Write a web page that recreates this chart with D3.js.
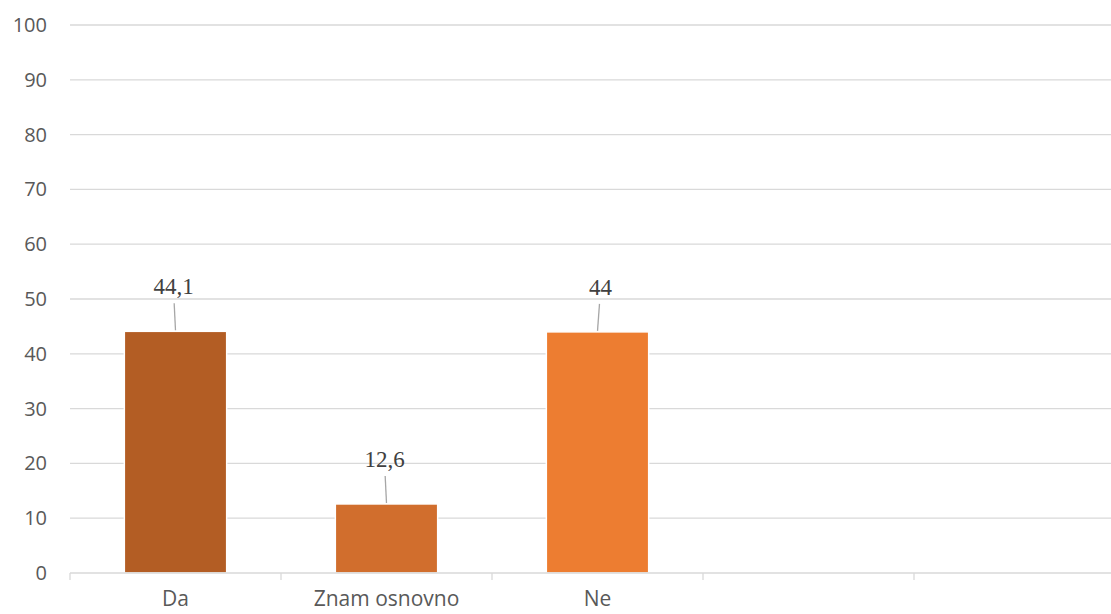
<!DOCTYPE html>
<html><head><meta charset="utf-8">
<script src="https://cdn.jsdelivr.net/npm/d3@7"></script>
<style>html,body{margin:0;padding:0;background:#fff;overflow:hidden}</style>
</head><body>
<svg id="c" width="1111" height="614"></svg>
<script>
const categories = ["Da", "Znam osnovno", "Ne", "", ""];
const values = [44.1, 12.6, 44, null, null];
const valueLabels = ["44,1", "12,6", "44", "", ""];
const yTicks = [0, 10, 20, 30, 40, 50, 60, 70, 80, 90, 100];
const barColors = ["#B35D24", "#D16E2D", "#ED7D31"];
const labelDx = [-2, -2, 3];

(function () {
const svg = d3.select("#c");
const mLeft = 70, mRight = 1125, mTop = 25, mBottom = 573;
const x = d3.scaleBand().domain(d3.range(categories.length)).range([mLeft, mRight]).padding(0);
const y = d3.scaleLinear().domain([0, 100]).range([mBottom, mTop]);
const barW = x.bandwidth() * 0.485;
const sans = "Open Sans, Liberation Sans, Arial, sans-serif";

// gridlines
svg.append("g").selectAll("line").data(yTicks.filter(d => d > 0)).join("line")
  .attr("x1", mLeft).attr("x2", mRight)
  .attr("y1", d => y(d)).attr("y2", d => y(d))
  .attr("stroke", "#d9d9d9").attr("stroke-width", 1.3);

// y labels
svg.append("g").selectAll("text").data(yTicks).join("text")
  .attr("x", 47).attr("y", d => y(d) + 7)
  .attr("text-anchor", "end")
  .attr("font-family", sans)
  .attr("font-size", 20).attr("fill", "#595959")
  .text(d => d);

// bars
const idx = d3.range(categories.length).filter(i => values[i] != null);
svg.append("g").selectAll("rect").data(idx).join("rect")
  .attr("x", i => x(i) + (x.bandwidth() - barW) / 2)
  .attr("width", barW)
  .attr("y", i => y(values[i]))
  .attr("height", i => y(0) - y(values[i]))
  .attr("fill", i => barColors[i])
  .attr("stroke", "#fff").attr("stroke-width", 1.5);

// x axis
const xAxis = svg.append("g").attr("transform", `translate(0,${mBottom})`);
xAxis.append("line").attr("x1", mLeft).attr("x2", mRight).attr("y1", 0).attr("y2", 0)
  .attr("stroke", "#d9d9d9").attr("stroke-width", 1.3);
xAxis.selectAll("line.tick").data(d3.range(categories.length + 1)).join("line")
  .attr("class", "tick")
  .attr("x1", i => mLeft + i * x.step()).attr("x2", i => mLeft + i * x.step())
  .attr("y1", 0).attr("y2", 7)
  .attr("stroke", "#d9d9d9").attr("stroke-width", 1.3);
xAxis.selectAll("text").data(d3.range(categories.length)).join("text")
  .attr("x", i => x(i) + x.bandwidth() / 2)
  .attr("y", 33)
  .attr("text-anchor", "middle")
  .attr("font-family", sans)
  .attr("font-size", 21).attr("fill", "#595959")
  .text(i => categories[i]);

// value labels with leader lines
const lab = svg.append("g");
idx.forEach(i => {
  const cx = x(i) + x.bandwidth() / 2;
  const yt = y(values[i]);
  lab.append("line")
    .attr("x1", cx + labelDx[i] / 1.5).attr("y1", yt - 28)
    .attr("x2", cx).attr("y2", yt - 1)
    .attr("stroke", "#a6a6a6").attr("stroke-width", 1.3);
  lab.append("text")
    .attr("x", cx + labelDx[i]).attr("y", yt - 37)
    .attr("text-anchor", "middle")
    .attr("font-family", "Liberation Serif, Times New Roman, serif")
    .attr("font-size", 23).attr("fill", "#404040")
    .text(valueLabels[i]);
});
})();
</script>
</body></html>
